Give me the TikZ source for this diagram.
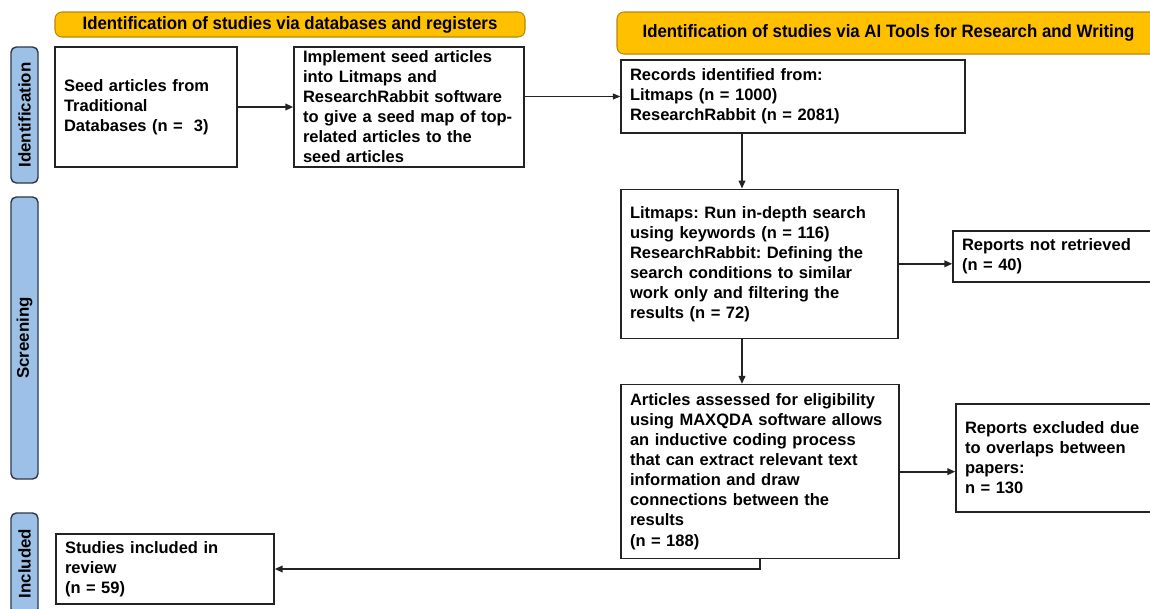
\documentclass[tikz,border=0pt]{standalone}
\usepackage{fontspec}
\setmainfont{Liberation Sans}
\newfontfamily\headfont[FakeStretch=0.94]{Liberation Sans}
\usetikzlibrary{arrows.meta,positioning}
\definecolor{gold}{RGB}{255,192,0}
\definecolor{golddark}{RGB}{185,135,10}
\definecolor{phasefill}{RGB}{157,193,230}
\definecolor{phaseline}{RGB}{45,55,75}
\definecolor{ink}{RGB}{35,35,35}
\frenchspacing
\hyphenpenalty=10000
\tikzset{
  hdr/.style={draw=golddark, fill=gold, rounded corners=4pt, line width=0.6pt,
              font=\headfont\bfseries\fontsize{10.2}{12}\selectfont, inner sep=0pt},
  phase/.style={draw=phaseline, fill=phasefill, rounded corners=3pt, line width=0.8pt,
                rotate=90, minimum height=5.4mm, inner sep=0pt,
                font=\bfseries\fontsize{9.6}{11}\selectfont, minimum width=#1},
  box/.style={draw=ink, fill=white, line width=0.75pt, align=left,
              font=\bfseries\fontsize{9.4}{11.4}\selectfont,
              inner xsep=1.8mm, inner ysep=0pt, text width=#1},
  flow/.style={-{Triangle[length=1.6mm,width=1.3mm]}, line width=1.1pt, ink},
  thinflow/.style={-{Triangle[length=1.5mm,width=1.2mm]}, line width=0.55pt, ink},
}

\begin{document}
\begin{tikzpicture}
  \useasboundingbox (0,0) rectangle (23,-12.18);
  % headers
  \node[hdr, minimum width=94mm, minimum height=5mm] (hdrdb) at (5.80,-0.49)
    {Identification of studies via databases and registers};
  \node[hdr, minimum width=108.6mm, minimum height=8.4mm] (hdrai) at (17.77,-0.66)
    {Identification of studies via AI Tools for Research and Writing};

  % phases
  \node[phase=27.2mm] (pid) at (0.49,-2.30) {Identification};
  \node[phase=56.4mm] (pscr) at (0.49,-6.76) {Screening};
  \node[phase=20.2mm] (pinc) at (0.49,-11.27) {Included};

  % databases side
  \node[box=32.8mm, minimum height=24mm] (seed) at (2.92,-2.14)
    {Seed articles from\\ Traditional\\ Databases (n =\ \ 3)};
  \node[box=42.4mm, minimum height=24mm] (impl) at (8.18,-2.14)
    {Implement seed articles\\ into Litmaps and\\ ResearchRabbit software\\
     to give a seed map of top-\\ related articles to the\\ seed articles};
  \node[box=40.0mm, minimum height=14mm] (incl) at (3.30,-11.38)
    {Studies included in\\ review\\ (n = 59)};

  % AI tools side
  \node[box=65.2mm, minimum height=14.6mm] (rec) at (15.86,-1.93)
    {Records identified from:\\ Litmaps (n = 1000)\\ ResearchRabbit (n = 2081)};
  \node[box=51.8mm, minimum height=29.8mm, below right=11mm and 0mm of rec.south west] (scr)
    {Litmaps: Run in-depth search\\ using keywords (n = 116)\\ ResearchRabbit: Defining the\\
     search conditions to similar\\ work only and filtering the\\ results (n = 72)};
  \node[box=52.0mm, minimum height=34.8mm, below right=9mm and 0mm of scr.south west] (art)
    {Articles assessed for eligibility\\ using MAXQDA software allows\\ an inductive coding process\\
     that can extract relevant text\\ information and draw\\ connections between the\\ results\\ (n = 188)};
  \node[box=37.8mm, minimum height=10.2mm] (notret) at (21.13,-5.13)
    {Reports not retrieved\\ (n = 40)};
  \node[box=37.2mm, minimum height=21.6mm] (excl) at (21.16,-9.16)
    {Reports excluded due\\ to overlaps between\\ papers:\\ n = 130};

  % connectors
  \coordinate (drop) at (14.84,0);
  \draw[flow] (seed) -- (impl);
  \draw[thinflow] (impl.east |- rec.west) -- (rec.west);
  \draw[flow] (rec.south -| drop) -- (scr.north -| drop);
  \draw[flow] (scr.south -| drop) -- (art.north -| drop);
  \draw[flow] (scr.east) -- (scr.east -| notret.west);
  \draw[flow] (art.east) -- (art.east -| excl.west);
  \draw[flow] (art.south) |- (incl.east);
\end{tikzpicture}
\end{document}
